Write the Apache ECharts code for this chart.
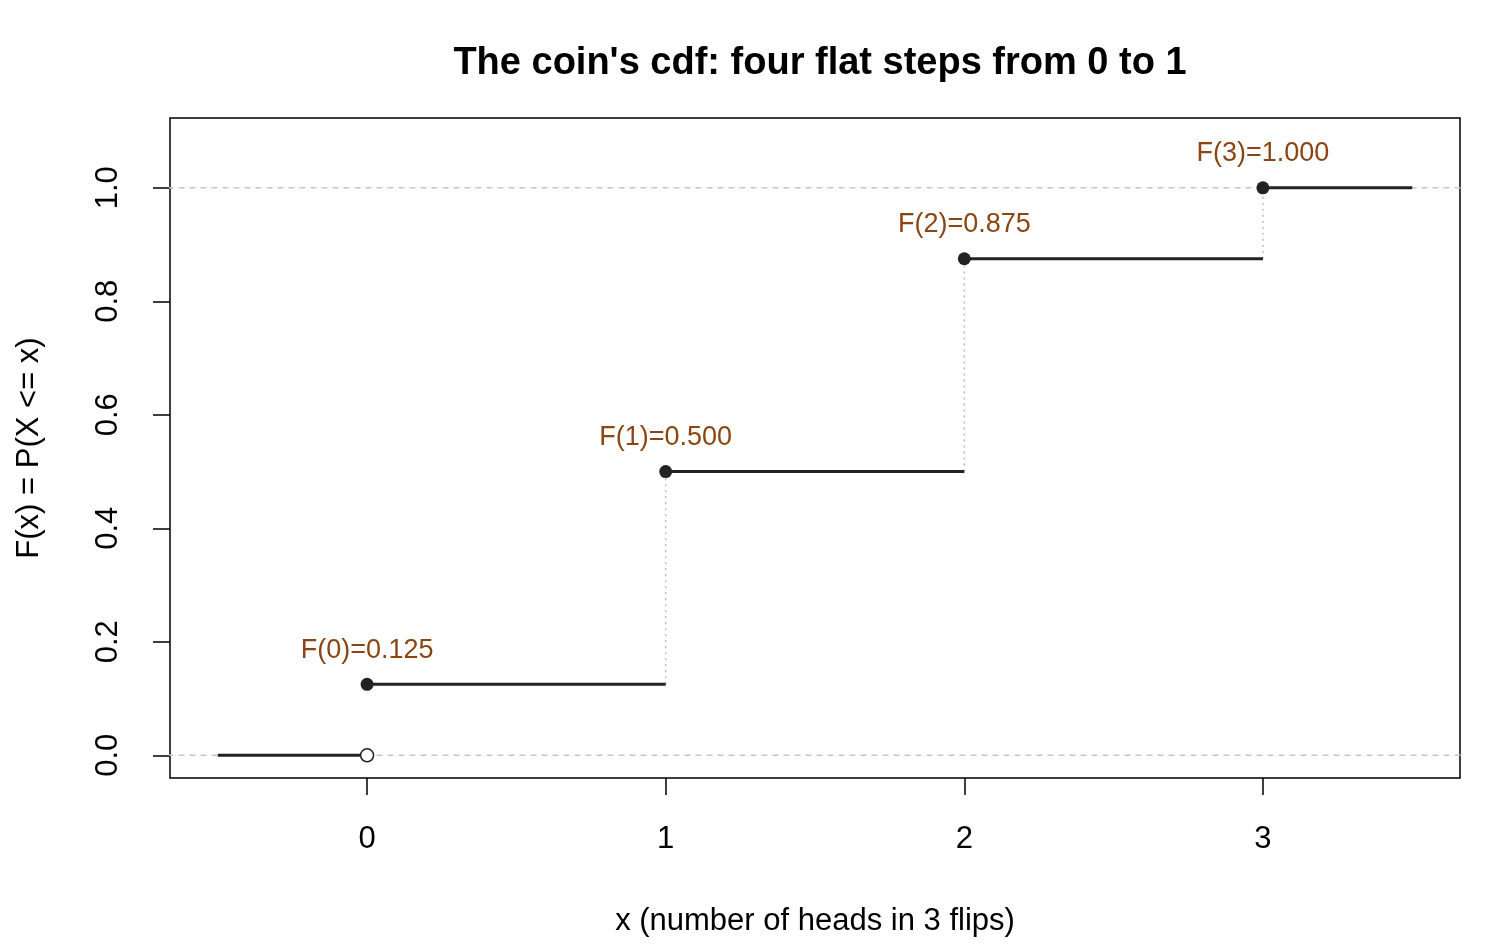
<!DOCTYPE html>
<html><head><meta charset="utf-8">
<script src="https://cdn.jsdelivr.net/npm/echarts@6/dist/echarts.min.js"></script>
<style>html,body{margin:0;background:#fff}#c{width:1500px;height:950px}</style>
</head><body><div id="c"></div>
<script>
const xs = [0, 1, 2, 3];
const cdf = [0.125, 0.5, 0.875, 1.0];
const labels = ['F(0)=0.125', 'F(1)=0.500', 'F(2)=0.875', 'F(3)=1.000'];
const xTicks = [0, 1, 2, 3];
const yTicks = [0, 0.2, 0.4, 0.6, 0.8, 1.0];
const yTickLabels = ['0.0', '0.2', '0.4', '0.6', '0.8', '1.0'];
const leftEnd = -0.5, rightEnd = 3.5;

const series = [];
const dark = '#222';
const lv = [0].concat(cdf);
const starts = [leftEnd].concat(xs);
const ends = xs.concat([rightEnd]);
for (let i = 0; i < lv.length; i++) {
  series.push({type: 'line', data: [[starts[i], lv[i]], [ends[i], lv[i]]], symbol: 'none',
    lineStyle: {color: dark, width: 3}, silent: true, z: 3});
}
for (let i = 1; i < xs.length; i++) {
  series.push({type: 'line', data: [[xs[i], cdf[i - 1]], [xs[i], cdf[i]]], symbol: 'none',
    lineStyle: {color: '#bbb', width: 1.5, type: [2, 4]}, z: 2});
}
[0, 1].forEach(v => series.push({type: 'line', data: [[-1, v], [4, v]], symbol: 'none',
  lineStyle: {color: '#c8c8c8', width: 1.5, type: [6, 5]}, z: 1}));
series.push({type: 'scatter', data: [[0, 0]], symbol: 'circle', symbolSize: 13,
  itemStyle: {color: '#fff', borderColor: dark, borderWidth: 1.5, opacity: 1}, z: 5});
series.push({type: 'scatter', data: xs.map((x, i) => [x, cdf[i]]), symbolSize: 13,
  itemStyle: {color: dark, opacity: 1}, z: 5,
  label: {show: true, position: 'top', distance: 14, color: '#8B4513', fontSize: 27,
    fontFamily: 'Arial, Liberation Sans', formatter: p => labels[p.dataIndex]}});

const chart = echarts.init(document.getElementById('c'));
chart.setOption({
  animation: false,
  title: {text: "The coin's cdf: four flat steps from 0 to 1", left: 815, top: 40, textAlign: 'center',
    textStyle: {fontSize: 38, fontWeight: 'bold', color: '#000', fontFamily: 'Arial, Liberation Sans'}},
  grid: {left: 170, right: 40, top: 118, bottom: 172, show: true, borderColor: '#000', borderWidth: 1.5},
  xAxis: {type: 'value', min: -0.66, max: 3.66,
    name: 'x (number of heads in 3 flips)', nameLocation: 'middle', nameGap: 128,
    nameTextStyle: {fontSize: 31, color: '#000', fontFamily: 'Arial, Liberation Sans'},
    splitLine: {show: false}, axisLine: {show: false, onZero: false},
    axisTick: {show: true, length: 17, customValues: xTicks, lineStyle: {color: '#000', width: 1.5}},
    axisLabel: {customValues: xTicks, margin: 46, fontSize: 31, color: '#000', fontFamily: 'Arial, Liberation Sans'}},
  yAxis: {type: 'value', min: -0.04, max: 1.123,
    name: 'F(x) = P(X <= x)', nameLocation: 'middle', nameGap: 125,
    nameTextStyle: {fontSize: 31, color: '#000', fontFamily: 'Arial, Liberation Sans'},
    splitLine: {show: false}, axisLine: {show: false, onZero: false},
    axisTick: {show: true, length: 17, customValues: yTicks, lineStyle: {color: '#000', width: 1.5}},
    axisLabel: {customValues: yTicks, rotate: 90, margin: 46, fontSize: 31, color: '#000',
      fontFamily: 'Arial, Liberation Sans', formatter: v => yTickLabels[yTicks.findIndex(t => Math.abs(t - v) < 1e-9)]}},
  series
});
</script></body></html>
